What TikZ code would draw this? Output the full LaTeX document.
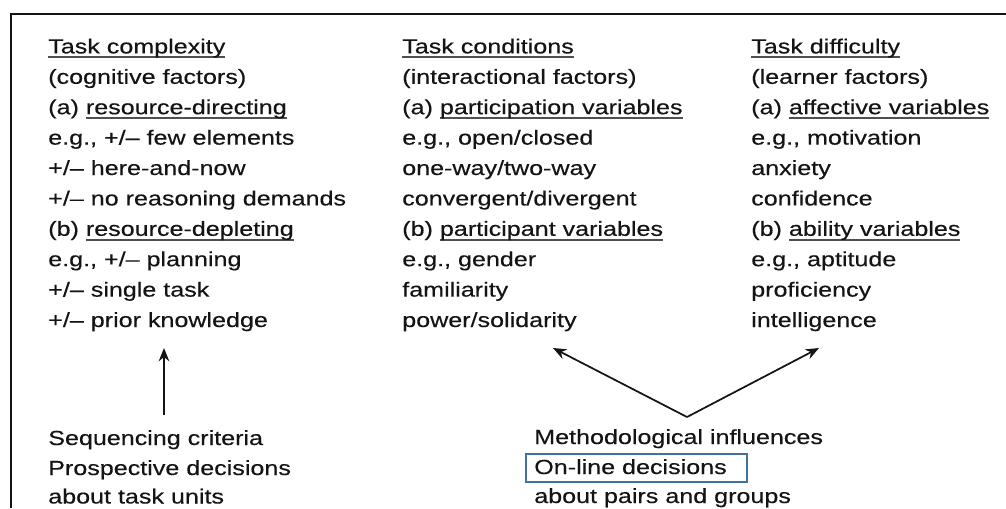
\documentclass[tikz,border=0pt]{standalone}
\usepackage{fontspec}
\setmainfont{Liberation Sans}[FakeStretch=1.23,FakeBold=0.3]
\usetikzlibrary{arrows.meta}
\definecolor{txt}{HTML}{141414}
\definecolor{boxblue}{HTML}{41719C}
\newcommand\ulx[1]{\setbox0\hbox{#1}\rlap{\color{txt!75}\rule[-3.6pt]{\wd0}{1.3pt}}\box0}
\tikzset{
  lbl/.style={anchor=base west, inner sep=0pt, text=txt, font=\fontsize{15.3pt}{18pt}\selectfont},
  conn/.style={draw=txt, line width=1.3pt, -{Stealth[length=10pt,width=8pt]}},
  hl/.style={draw=boxblue, line width=2.2pt}
}
\begin{document}
\begin{tikzpicture}[x=0.75pt,y=-0.75pt]
\useasboundingbox (0,0) rectangle (1006,508);
% frame
\draw[line width=1.8pt, draw=txt] (11,508) -- (11,14) -- (1006,14);
% left column
\node[lbl] (c1) at (48,53.4) {\ulx{Task complexity}};
\node[lbl] (c2) at (48,83.8) {(cognitive factors)};
\node[lbl] (c3) at (48,114.2) {(a) \ulx{resource-directing}};
\node[lbl] (c4) at (48,144.6) {e.g., +/– few elements};
\node[lbl] (c5) at (48,175.0) {+/– here-and-now};
\node[lbl] (c6) at (48,205.4) {+/– no reasoning demands};
\node[lbl] (c7) at (48,235.8) {(b) \ulx{resource-depleting}};
\node[lbl] (c8) at (48,266.2) {e.g., +/– planning};
\node[lbl] (c9) at (48,296.6) {+/– single task};
\node[lbl] (c10) at (48,327.0) {+/– prior knowledge};
% middle column
\node[lbl] (m1) at (402,53.4) {\ulx{Task conditions}};
\node[lbl] (m2) at (402,83.8) {(interactional factors)};
\node[lbl] (m3) at (402,114.2) {(a) \ulx{participation variables}};
\node[lbl] (m4) at (402,144.6) {e.g., open/closed};
\node[lbl] (m5) at (402,175.0) {one-way/two-way};
\node[lbl] (m6) at (402,205.4) {convergent/divergent};
\node[lbl] (m7) at (402,235.8) {(b) \ulx{participant variables}};
\node[lbl] (m8) at (402,266.2) {e.g., gender};
\node[lbl] (m9) at (402,296.6) {familiarity};
\node[lbl] (m10) at (402,327.0) {power/solidarity};
% right column
\node[lbl] (r1) at (751,53.4) {\ulx{Task difficulty}};
\node[lbl] (r2) at (751,83.8) {(learner factors)};
\node[lbl] (r3) at (751,114.2) {(a) \ulx{affective variables}};
\node[lbl] (r4) at (751,144.6) {e.g., motivation};
\node[lbl] (r5) at (751,175.0) {anxiety};
\node[lbl] (r6) at (751,205.4) {confidence};
\node[lbl] (r7) at (751,235.8) {(b) \ulx{ability variables}};
\node[lbl] (r8) at (751,266.2) {e.g., aptitude};
\node[lbl] (r9) at (751,296.6) {proficiency};
\node[lbl] (r10) at (751,327.0) {intelligence};
% bottom left
\node[lbl] (s1) at (48,445) {Sequencing criteria};
\node[lbl] (s2) at (48,475) {Prospective decisions};
\node[lbl] (s3) at (48,503.5) {about task units};
% bottom right
\node[lbl] (t1) at (534,444) {Methodological influences};
\node[lbl] (t2) at (534,474) {On-line decisions};
\node[lbl] (t3) at (534,503) {about pairs and groups};
\draw[hl] (526,454) rectangle (747,482);
% arrows
\coordinate (ls) at (164,415);
\coordinate (le) at (164,348);
\coordinate (vs) at (687,417);
\coordinate (ve1) at (553,348);
\coordinate (ve2) at (819,348);
\draw[conn] (ls) -- (le);
\draw[conn] (vs) -- (ve1);
\draw[conn] (vs) -- (ve2);
\end{tikzpicture}
\end{document}
